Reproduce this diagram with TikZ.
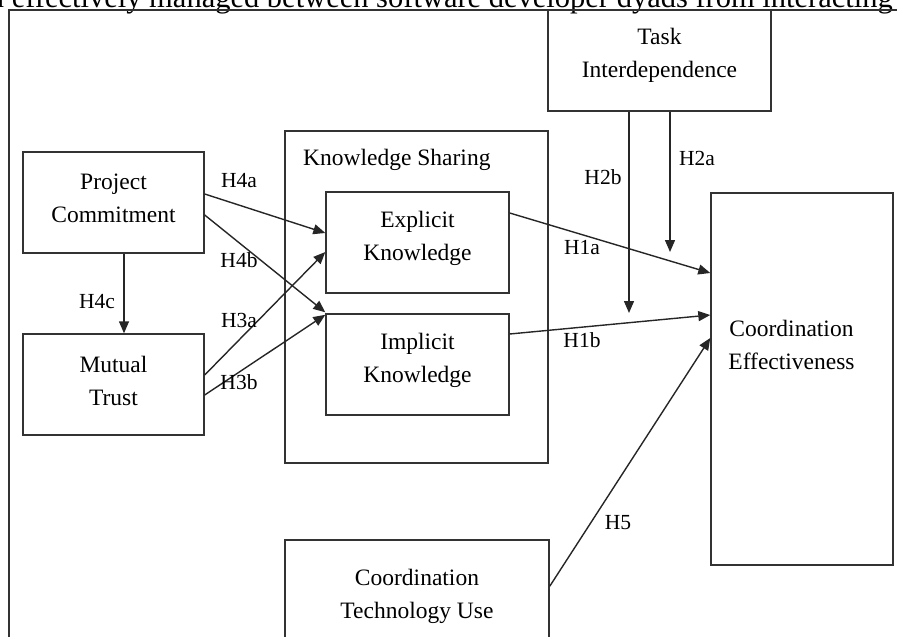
\documentclass[tikz,border=0pt]{standalone}
\usepackage{fontspec}
\setmainfont{Liberation Serif}
\usetikzlibrary{arrows.meta,calc}
\begin{document}
\begin{tikzpicture}[x=1pt,y=-1pt,
  box/.style={draw=black!80, line width=1.4pt, rectangle, inner sep=0pt},
  txt/.style={font=\fontsize{23.5}{33}\selectfont, align=center, inner sep=0pt},
  hyp/.style={font=\fontsize{21.5}{26}\selectfont, inner sep=0pt},
  arr/.style={draw=black!85, line width=1.4pt, -{Triangle[length=12pt,width=10pt]}},
]
\useasboundingbox (0,0) rectangle (897,637);
\clip (0,0) rectangle (897,637);
% caption fragment
\node[anchor=base east, font=\fontsize{30.5}{36}\selectfont, inner sep=0pt] (cap) at (893,7) {n effectively managed between software developer dyads from interacting};
% frame
\node[box, minimum width=911pt, minimum height=650pt] (frame) at (464.5,335) {};
% boxes
\node[box, minimum width=181pt, minimum height=101pt] (pc) at (113.5,202.5) {};
\node[box, minimum width=181pt, minimum height=101pt] (mt) at (113.5,384.5) {};
\node[box, minimum width=263pt, minimum height=332pt] (ks) at (416.5,297) {};
\node[box, minimum width=183pt, minimum height=101pt] (ek) at (417.5,242.5) {};
\node[box, minimum width=183pt, minimum height=101pt] (ik) at (417.5,364.5) {};
\node[box, minimum width=223pt, minimum height=101pt] (ti) at (659.5,60.5) {};
\node[box, minimum width=182pt, minimum height=372pt] (ce) at (802,379) {};
\node[box, minimum width=264pt, minimum height=120pt] (ctu) at (417,600) {};
% texts
\node[txt] (pct) at (113.5,198.5) {Project\\Commitment};
\node[txt] (mtt) at (113.5,381) {Mutual\\Trust};
\node[txt, anchor=west] (kst) at (303,160) {Knowledge Sharing};
\node[txt] (ekt) at (417.5,238.5) {Explicit\\Knowledge};
\node[txt] (ikt) at (417.5,360) {Implicit\\Knowledge};
\node[txt] (tit) at (659.5,55) {Task\\Interdependence};
\node[txt] (cet) at (791.5,344.5) {Coordination\\Effectiveness};
\node[txt] (ctut) at (417,596.5) {Coordination\\Technology Use};
% connectors
\coordinate (h2aend) at (670,252);
\coordinate (h2bend) at (629,313);
\draw[arr] ([xshift=10.5pt]pc.south) -- ([xshift=10.5pt]mt.north);
\draw[arr] ([yshift=8.5pt]pc.east) -- ([yshift=9.5pt]ek.west);
\draw[arr] ([yshift=-12.5pt]pc.east) -- ([yshift=1pt]ik.north west);
\draw[arr] ([yshift=9.5pt]mt.east) -- ([yshift=-9.5pt]ek.west);
\draw[arr] ([yshift=-10.5pt]mt.east) -- ([yshift=-1.5pt]ik.north west);
\draw[arr] ([yshift=29.5pt]ek.east) -- ([yshift=106pt]ce.west);
\draw[arr] ([yshift=30.5pt]ik.east) -- ([yshift=64pt]ce.west);
\draw[arr] ([yshift=-47pt]ctu.north east) -- ([yshift=41pt]ce.west);
\draw[arr] ([xshift=10.5pt]ti.south) -- (h2aend);
\draw[arr] ([xshift=-30.5pt]ti.south) -- (h2bend);
% hypothesis labels
\node[hyp] (l4a) at (239,181) {H4a};
\node[hyp] (l4b) at (239,260) {H4b};
\node[hyp] (l4c) at (97,302) {H4c};
\node[hyp] (l3a) at (239,320) {H3a};
\node[hyp] (l3b) at (239,382) {H3b};
\node[hyp] (l1a) at (582,248) {H1a};
\node[hyp] (l1b) at (582,340) {H1b};
\node[hyp] (l2a) at (697,158) {H2a};
\node[hyp] (l2b) at (603,177) {H2b};
\node[hyp] (l5) at (618,523) {H5};
\end{tikzpicture}
\end{document}
